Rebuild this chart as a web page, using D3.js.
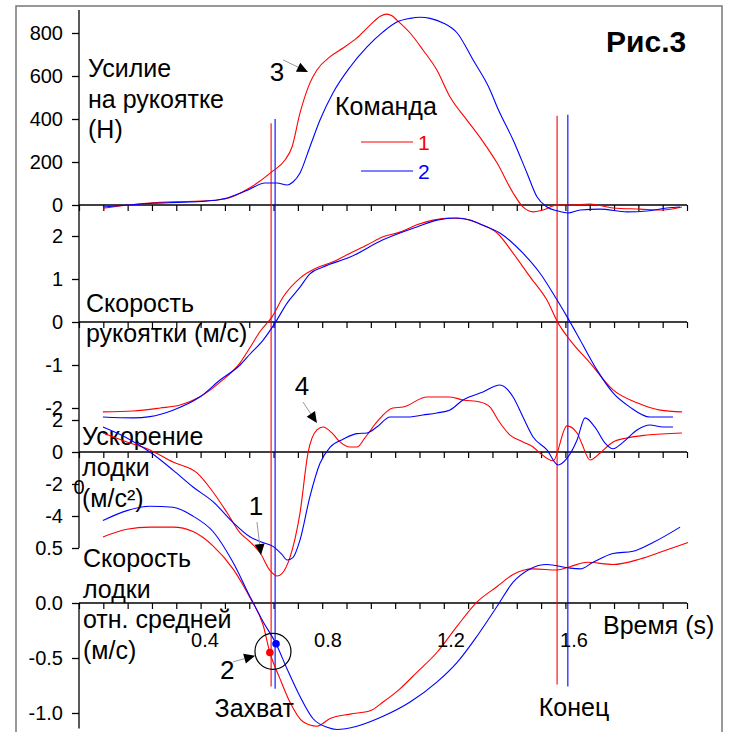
<!DOCTYPE html>
<html>
<head>
<meta charset="utf-8">
<script src="https://cdn.jsdelivr.net/npm/d3@7"></script>
<style>
  body { margin: 0; background: #fff; }
  text { font-family: "Liberation Sans", Arial, sans-serif; fill: #000; }
</style>
</head>
<body>
<svg id="chart" width="735" height="732"></svg>
<script>
// ---- data: [time (s), value] ----
let forceRed = [[0.068,-15],[0.150,0],[0.228,10],[0.309,15],[0.387,18],[0.465,28],[0.546,80],[0.618,155],[0.660,209],[0.683,270],[0.709,428],[0.741,567],[0.764,628],[0.807,690],[0.849,730],[0.894,777],[0.937,837],[0.970,878],[0.990,888],[1.008,880],[1.024,860],[1.067,800],[1.109,721],[1.154,628],[1.197,502],[1.252,395],[1.304,295],[1.350,195],[1.402,56],[1.434,-9],[1.467,-32],[1.499,-23],[1.545,0],[1.587,0],[1.652,5],[1.727,-14],[1.815,-19],[1.889,-23],[1.951,-9]];
let forceBlue = [[0.068,-9],[0.150,0],[0.228,8],[0.309,12],[0.387,16],[0.465,30],[0.540,70],[0.595,102],[0.634,102],[0.667,93],[0.686,107],[0.709,149],[0.741,270],[0.774,395],[0.816,521],[0.872,642],[0.927,735],[0.979,805],[1.024,851],[1.067,868],[1.100,873],[1.132,868],[1.174,847],[1.220,800],[1.272,674],[1.327,535],[1.350,456],[1.402,302],[1.447,149],[1.480,37],[1.512,-9],[1.548,-28],[1.580,-37],[1.620,-23],[1.685,-19],[1.772,-32],[1.837,-28],[1.902,-14],[1.945,-9]];

let handleRed = [[0.068,-2.09],[0.166,-2.07],[0.254,-2.00],[0.319,-1.93],[0.384,-1.74],[0.449,-1.40],[0.514,-0.95],[0.546,-0.60],[0.579,-0.22],[0.618,0.12],[0.654,0.58],[0.709,1.02],[0.764,1.26],[0.816,1.40],[0.872,1.60],[0.927,1.79],[0.979,1.98],[1.034,2.09],[1.089,2.26],[1.141,2.37],[1.197,2.42],[1.239,2.40],[1.304,2.25],[1.350,2.07],[1.402,1.60],[1.457,1.05],[1.512,0.51],[1.548,-0.02],[1.587,-0.42],[1.652,-0.95],[1.727,-1.58],[1.805,-1.88],[1.880,-2.05],[1.951,-2.09]];
let handleBlue = [[0.068,-2.21],[0.166,-2.23],[0.221,-2.20],[0.296,-2.05],[0.384,-1.74],[0.449,-1.35],[0.514,-1.00],[0.546,-0.75],[0.589,-0.42],[0.628,-0.02],[0.667,0.44],[0.709,0.81],[0.741,1.12],[0.784,1.28],[0.872,1.51],[0.979,1.91],[1.089,2.21],[1.154,2.37],[1.220,2.42],[1.262,2.37],[1.304,2.25],[1.359,2.07],[1.434,1.60],[1.489,1.14],[1.545,0.51],[1.580,0.09],[1.620,-0.42],[1.675,-1.12],[1.727,-1.65],[1.782,-1.98],[1.847,-2.21],[1.922,-2.21]];

let accelRed = [[0.068,1.19],[0.146,0.63],[0.221,0.13],[0.296,-0.63],[0.374,-1.31],[0.426,-2.50],[0.472,-3.80],[0.514,-5.06],[0.546,-5.60],[0.579,-6.30],[0.611,-7.40],[0.634,-7.75],[0.650,-7.60],[0.676,-6.60],[0.709,-3.80],[0.735,-0.06],[0.764,1.38],[0.784,1.56],[0.813,1.19],[0.839,0.63],[0.872,0.31],[0.894,0.31],[0.920,0.88],[0.959,1.88],[1.011,2.75],[1.044,2.81],[1.122,3.44],[1.197,3.44],[1.239,3.25],[1.294,3.13],[1.327,2.81],[1.353,2.00],[1.392,1.06],[1.434,0.63],[1.467,0.31],[1.489,-0.06],[1.532,-0.55],[1.577,1.63],[1.610,1.19],[1.626,0.50],[1.652,-0.50],[1.685,-0.06],[1.727,0.63],[1.772,0.88],[1.837,1.06],[1.951,1.19]];
let accelBlue = [[0.068,1.56],[0.146,0.88],[0.221,0.00],[0.296,-1.13],[0.361,-2.19],[0.426,-3.10],[0.491,-4.40],[0.546,-5.30],[0.579,-5.60],[0.621,-5.90],[0.650,-6.40],[0.667,-6.75],[0.686,-6.60],[0.709,-5.50],[0.741,-2.80],[0.774,-0.70],[0.807,0.31],[0.849,0.80],[0.894,1.15],[0.927,1.19],[0.959,1.56],[1.002,2.19],[1.067,2.19],[1.109,2.31],[1.154,2.44],[1.197,2.63],[1.239,3.25],[1.304,3.75],[1.359,4.19],[1.402,3.44],[1.434,2.19],[1.467,0.94],[1.512,0.13],[1.548,-0.81],[1.577,-0.40],[1.610,0.75],[1.636,2.13],[1.668,1.56],[1.701,0.56],[1.727,0.20],[1.759,0.60],[1.805,1.38],[1.847,1.69],[1.889,1.56],[1.922,1.56]];

let boatRed = [[0.068,0.60],[0.146,0.67],[0.221,0.69],[0.296,0.69],[0.361,0.65],[0.426,0.52],[0.491,0.31],[0.546,0.05],[0.589,-0.20],[0.611,-0.45],[0.644,-0.69],[0.676,-0.90],[0.719,-1.08],[0.764,-1.12],[0.807,-1.05],[0.872,-1.01],[0.937,-0.98],[0.979,-0.90],[1.034,-0.78],[1.089,-0.63],[1.154,-0.45],[1.220,-0.21],[1.285,0.01],[1.350,0.15],[1.402,0.26],[1.467,0.31],[1.545,0.30],[1.587,0.33],[1.642,0.37],[1.727,0.35],[1.815,0.40],[1.889,0.47],[1.971,0.55]];
let boatBlue = [[0.068,0.75],[0.146,0.84],[0.221,0.88],[0.296,0.87],[0.361,0.79],[0.426,0.65],[0.491,0.37],[0.546,0.06],[0.589,-0.17],[0.631,-0.37],[0.667,-0.60],[0.709,-0.85],[0.751,-1.05],[0.797,-1.13],[0.829,-1.15],[0.894,-1.12],[0.979,-1.03],[1.067,-0.90],[1.154,-0.72],[1.220,-0.54],[1.285,-0.30],[1.350,-0.03],[1.402,0.19],[1.457,0.31],[1.512,0.35],[1.580,0.32],[1.620,0.31],[1.662,0.37],[1.727,0.45],[1.792,0.47],[1.857,0.55],[1.945,0.69]];

// catch / finish times for each crew, and catch points on the boat speed
let catchTimes = [0.615, 0.628];
let finishTimes = [1.545, 1.580];
let catchPoints = [[0.611,-0.45],[0.631,-0.37]];
let catchCircle = [0.621,-0.44];

// tick labels
let forceTicks = [0, 200, 400, 600, 800];
let handleTicks = [-2, -1, 0, 1, 2];
let accelTicks = [-4, -2, 0, 2];
let boatTicks = [-1.0, -0.5, 0.0, 0.5];
let timeLabels = [0.4, 0.8, 1.2, 1.6];
let crews = ["1", "2"];

// ---- layout ----
let red = "#ff0000";
let blue = "#0000ff";
let svg = d3.select("#chart");

let x = d3.scaleLinear().domain([0.4, 1.6]).range([205, 574]);
let tickX = d3.scaleLinear().domain([0, 25]).range([79, 687]);

let yForce = d3.scaleLinear().domain([0, 800]).range([205, 33]);
let yHandle = d3.scaleLinear().domain([-2, 2]).range([408, 236]);
let yAccel = d3.scaleLinear().domain([-4, 2]).range([516, 420]);
let yBoat = d3.scaleLinear().domain([-1, 0.5]).range([713, 548]);

let panels = [
  { y: yForce, ticks: forceTicks, fmt: (d) => String(d), series: [forceRed, forceBlue],
    label: ["Усилие", "на рукоятке", "(Н)"], lx: 88, lb: 77, lh: 30.5 },
  { y: yHandle, ticks: handleTicks, fmt: (d) => String(d), series: [handleRed, handleBlue],
    label: ["Скорость", "рукоятки (м/с)"], lx: 86, lb: 312, lh: 30 },
  { y: yAccel, ticks: accelTicks, fmt: (d) => String(d), series: [accelRed, accelBlue],
    label: ["Ускорение", "лодки", "(м/с²)"], lx: 82, lb: 445, lh: 31 },
  { y: yBoat, ticks: boatTicks, fmt: (d) => d.toFixed(1), series: [boatRed, boatBlue],
    label: ["Скорость", "лодки", "отн. средней", "(м/с)"], lx: 83, lb: 567, lh: 30.5 },
];

// outer frame
svg.append("rect")
  .attr("x", 16).attr("y", 6)
  .attr("width", 706).attr("height", 740)
  .attr("fill", "none")
  .attr("stroke", "#777")
  .attr("stroke-width", 1.5);

// y axis spine (gap between acceleration and boat speed panels)
svg.append("line").attr("x1", 79).attr("x2", 79)
  .attr("y1", yForce(907)).attr("y2", yBoat(0.5))
  .attr("stroke", "#000").attr("stroke-width", 1.3);
svg.append("line").attr("x1", 79).attr("x2", 79)
  .attr("y1", yBoat(0)).attr("y2", yBoat(-1.14))
  .attr("stroke", "#000").attr("stroke-width", 1.3);

panels.forEach((p) => {
  // y ticks
  let ya = svg.append("g").attr("transform", "translate(79,0)")
    .call(d3.axisLeft(p.y).tickValues(p.ticks).tickFormat(p.fmt).tickSize(7).tickPadding(9));
  ya.select(".domain").remove();
  ya.selectAll("line").attr("stroke", "#000").attr("stroke-width", 1.3);
  ya.selectAll("text").style("font-size", "20px").style("font-family", '"Liberation Sans", Arial, sans-serif');

  // x axis at zero with small ticks below
  let xa = svg.append("g").attr("transform", "translate(0," + p.y(0) + ")")
    .call(d3.axisBottom(tickX).ticks(25).tickSize(6).tickFormat(""));
  xa.select(".domain").attr("d", "M79,0H687").attr("stroke", "#000").attr("stroke-width", 1.3);
  xa.selectAll("line").attr("stroke", "#000").attr("stroke-width", 1.2);

  // panel label
  let t = svg.append("text").attr("x", p.lx).attr("y", p.lb).style("font-size", "25px");
  p.label.forEach((s, i) => {
    t.append("tspan").attr("x", p.lx).attr("y", p.lb + i * p.lh).text(s);
  });
});

// stray zero next to the acceleration axis
svg.append("text").attr("x", 79).attr("y", yAccel(-2.6))
  .attr("text-anchor", "middle").style("font-size", "20px").text("0");

// event lines
let eventLines = [
  { t: catchTimes[0], c: red, top: 380, bot: -0.76 },
  { t: catchTimes[1], c: blue, top: 400, bot: -0.78 },
  { t: finishTimes[0], c: red, top: 415, bot: -0.74 },
  { t: finishTimes[1], c: blue, top: 420, bot: -0.76 },
];
svg.selectAll(".ev").data(eventLines).enter().append("line")
  .attr("x1", (d) => x(d.t)).attr("x2", (d) => x(d.t))
  .attr("y1", (d) => yForce(d.top)).attr("y2", (d) => yBoat(d.bot))
  .attr("stroke", (d) => d.c).attr("stroke-width", 1.1);

// curves
panels.forEach((p) => {
  let line = d3.line()
    .x((d) => x(d[0]))
    .y((d) => p.y(d[1]))
    .curve(d3.curveMonotoneX);
  p.series.forEach((s, i) => {
    svg.append("path").datum(s)
      .attr("d", line)
      .attr("fill", "none")
      .attr("stroke", i === 0 ? red : blue)
      .attr("stroke-width", 1.1);
  });
});

// catch points on boat speed
svg.append("circle")
  .attr("cx", x(catchCircle[0])).attr("cy", yBoat(catchCircle[1])).attr("r", 18)
  .attr("fill", "none").attr("stroke", "#000").attr("stroke-width", 1.2);
svg.selectAll(".cp").data(catchPoints).enter().append("circle")
  .attr("cx", (d) => x(d[0])).attr("cy", (d) => yBoat(d[1])).attr("r", 3.8)
  .attr("fill", (d, i) => (i === 0 ? red : blue));

// numbered arrows
let arrows = [
  { text: "3", y: yForce, tip: [0.735, 619], tx: -31, ty: 9, sx: -25, sy: -12 },
  { text: "4", y: yAccel, tip: [0.764, 1.81], tx: -15, ty: -28, sx: -14, sy: -21 },
  { text: "1", y: yAccel, tip: [0.582, -6.44], tx: -5, ty: -40, sx: -4, sy: -33 },
  { text: "2", y: yBoat, tip: [0.563, -0.48], tx: -28, ty: 23, sx: -22, sy: 6 },
];
arrows.forEach((a) => {
  let px = x(a.tip[0]);
  let py = a.y(a.tip[1]);
  let sx = px + a.sx, sy = py + a.sy;
  let dx = px - sx, dy = py - sy;
  let len = Math.sqrt(dx * dx + dy * dy);
  let ux = dx / len, uy = dy / len;
  let bx = px - 11 * ux, by = py - 11 * uy;
  svg.append("line").attr("x1", sx).attr("y1", sy).attr("x2", bx).attr("y2", by)
    .attr("stroke", "#999").attr("stroke-width", 1);
  svg.append("path")
    .attr("d", "M" + px + "," + py + "L" + (bx - 5 * uy) + "," + (by + 5 * ux) +
      "L" + (bx + 5 * uy) + "," + (by - 5 * ux) + "Z")
    .attr("fill", "#000");
  svg.append("text").attr("x", px + a.tx).attr("y", py + a.ty)
    .attr("text-anchor", "middle").style("font-size", "26px").text(a.text);
});

// time labels
svg.selectAll(".tl").data(timeLabels).enter().append("text")
  .attr("x", (d) => x(d)).attr("y", 647)
  .attr("text-anchor", "middle").style("font-size", "20px")
  .text((d) => d.toFixed(1));

svg.append("text").attr("x", 603).attr("y", 634).style("font-size", "25px").text("Время (s)");
svg.append("text").attr("x", x(0.56)).attr("y", 717).attr("text-anchor", "middle")
  .style("font-size", "25px").text("Захват");
svg.append("text").attr("x", x(1.6)).attr("y", 716).attr("text-anchor", "middle")
  .style("font-size", "25px").text("Конец");

// legend
svg.append("text").attr("x", 335).attr("y", 115).style("font-size", "25px").text("Команда");
crews.forEach((c, i) => {
  let ly = 142 + i * 29;
  svg.append("line").attr("x1", 361).attr("x2", 413).attr("y1", ly).attr("y2", ly)
    .attr("stroke", i === 0 ? red : blue).attr("stroke-width", 1.2);
  svg.append("text").attr("x", 418).attr("y", ly + 8).style("font-size", "21px")
    .style("fill", i === 0 ? red : blue).text(c);
});

// figure title
svg.append("text").attr("x", 606).attr("y", 52)
  .style("font-size", "30px").style("font-weight", "bold").text("Рис.3");
</script>
</body>
</html>
